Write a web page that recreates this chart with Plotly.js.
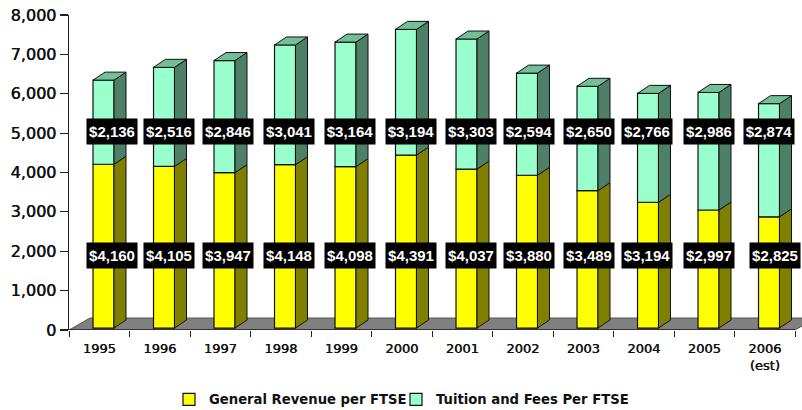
<!DOCTYPE html>
<html>
<head>
<meta charset="utf-8">
<script src="https://cdn.plot.ly/plotly-3.0.1.min.js"></script>
<style>html,body{margin:0;padding:0;background:#fff}#chart{width:802px;height:410px}</style>
</head>
<body>
<div id="chart"></div>
<script>
const years = ['1995','1996','1997','1998','1999','2000','2001','2002','2003','2004','2005','2006<br>(est)'];
const generalRevenue = [4160,4105,3947,4148,4098,4391,4037,3880,3489,3194,2997,2825];
const tuitionFees = [2136,2516,2846,3041,3164,3194,3303,2594,2650,2766,2986,2874];

// layout helpers (not data)
const pxPerCat = 60.5, pxPerUnit = 315 / 8000;
const barOffset = -0.103, barWidth = 0.347;
const lift = 50;                     // front face sits slightly above the floor edge
const depthX = 12 / pxPerCat, depthY = 8 / pxPerUnit;
const floorX = 21 / pxPerCat, floorY = 12 / pxPerUnit;
const topNudge = [8.5,5,3,3.6,4,4.5,4,2.4,1,-0.7,0,0];
const bottomNudge = [8.5,5,3,3.6,4,4.5,4,2.4,1,-0.7,0,6];
const topLabelY = 5041, bottomLabelY = 1892;
const idx = years.map((_, i) => i);
const font = 'DejaVu Sans, Verdana, sans-serif';
const thicken = '0.45px 0 0 #111';

function faces(lows, highs) {
  const side = {x: [], y: []};
  const lid = {x: [], y: []};
  idx.forEach(i => {
    const l = i + barOffset, r = l + barWidth, a = lows[i], b = highs[i];
    side.x.push(r, r + depthX, r + depthX, r, r, null);
    side.y.push(a, a + depthY, b + depthY, b, a, null);
    lid.x.push(l, l + depthX, r + depthX, r, l, null);
    lid.y.push(b, b + depthY, b + depthY, b, b, null);
  });
  return {side, lid};
}
const revTop = generalRevenue.map(v => v + lift);
const allTop = generalRevenue.map((v, i) => v + tuitionFees[i] + lift);
const revFaces = faces(generalRevenue.map(() => lift), revTop);
const feeFaces = faces(revTop, allTop);

function poly(f, color) {
  return {type: 'scatter', mode: 'lines', x: f.x, y: f.y, fill: 'toself', fillcolor: color,
    line: {color: '#111', width: 1}, hoverinfo: 'skip', showlegend: false};
}
function bars(name, vals, base, color, legendId) {
  return {type: 'bar', name, x: idx, y: vals, base, width: barWidth, offset: barOffset,
    marker: {color, line: {color: '#111', width: 1.2}}, legend: legendId};
}

const traces = [
  bars('General Revenue per FTSE', generalRevenue, generalRevenue.map(() => lift), '#ffff00', 'legend'),
  bars('Tuition and Fees Per FTSE', tuitionFees, revTop, '#99ffcc', 'legend2'),
  poly(revFaces.side, '#808000'),
  poly(feeFaces.side, '#4d8066'),
  poly(feeFaces.lid, '#73bf99')
];

function label(text, i, y, nudge) {
  return {text, x: i + barOffset + barWidth / 2, y, xref: 'x', yref: 'y', xshift: nudge, showarrow: false,
    bgcolor: '#000', width: 50, height: 25, align: 'center', valign: 'middle', borderpad: 0,
    font: {family: 'Liberation Sans, Arial, sans-serif', size: 15, color: '#fff', weight: 700}};
}
const money = v => '$' + v.toLocaleString('en-US');
const annotations = [
  ...idx.map(i => label(money(tuitionFees[i]), i, topLabelY, topNudge[i])),
  ...idx.map(i => label(money(generalRevenue[i]), i, bottomLabelY, bottomNudge[i]))
];

const legendFont = {family: font, size: 13.2, color: '#111', weight: 700};
const layout = {
  width: 802, height: 410,
  margin: {l: 69, r: 0, t: 15, b: 80, pad: 0},
  paper_bgcolor: '#fff', plot_bgcolor: '#fff',
  barmode: 'overlay',
  xaxis: {
    range: [-0.5, -0.5 + 733 / pxPerCat], showgrid: false, zeroline: false, showline: false,
    tickmode: 'array', tickvals: idx, ticktext: years, ticks: '',
    tickfont: {family: font, size: 13, color: '#111', shadow: thicken},
    ticklabelstandoff: 9,
    minor: {tickmode: 'linear', tick0: -0.5, dtick: 1, ticks: 'outside', ticklen: 6, tickcolor: '#222', tickwidth: 1, showgrid: false}
  },
  yaxis: {
    range: [0, 8000], dtick: 1000, tickformat: ',', showgrid: false, zeroline: false,
    showline: true, linecolor: '#222', linewidth: 1.5, ticks: 'outside', ticklen: 8, tickcolor: '#222', tickwidth: 1.2,
    tickfont: {family: font, size: 16, color: '#111', shadow: thicken}
  },
  shapes: [
    {type: 'path', layer: 'below', xref: 'x', yref: 'y',
     path: `M -0.5 0 L ${-0.5 + floorX} ${floorY} L ${11.5 + floorX} ${floorY} L 11.5 0 Z`,
     fillcolor: '#808080', line: {color: '#555', width: 1}},
    {type: 'line', layer: 'below', xref: 'x', yref: 'y', x0: -0.5, x1: 11.5, y0: 0, y1: 0, line: {color: '#222', width: 1.5}}
  ],
  annotations,
  legend: {orientation: 'h', x: 169 / 802, xref: 'container', y: 0.025, yref: 'container', yanchor: 'middle', xanchor: 'left', font: legendFont, bgcolor: 'rgba(0,0,0,0)'},
  legend2: {orientation: 'h', x: 396 / 802, xref: 'container', y: 0.025, yref: 'container', yanchor: 'middle', xanchor: 'left', font: legendFont, bgcolor: 'rgba(0,0,0,0)'},
  hovermode: false
};
Plotly.newPlot('chart', traces, layout, {displayModeBar: false, staticPlot: true});
</script>
</body>
</html>
